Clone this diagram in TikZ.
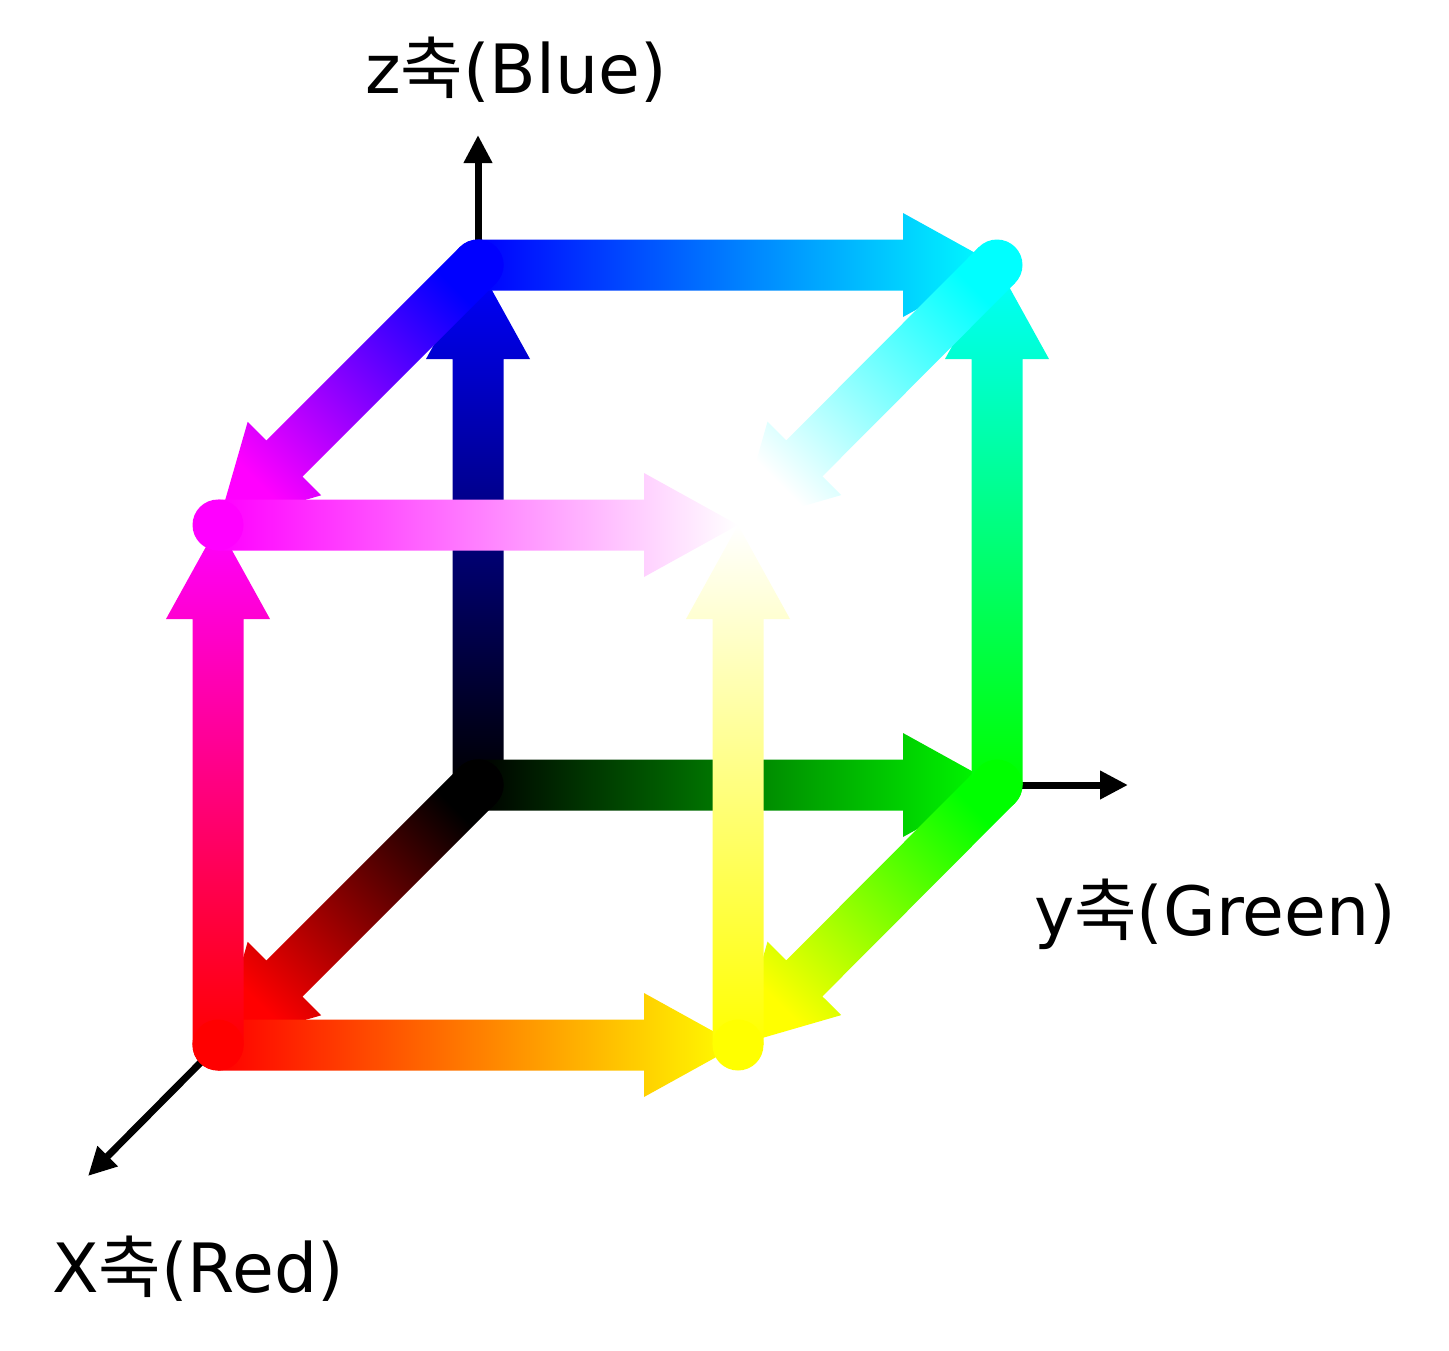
\documentclass[tikz,border=0pt]{standalone}
\usepackage{fontspec}
\setmainfont{DejaVu Sans}
\newfontfamily\kr{Noto Sans CJK KR}
\usetikzlibrary{calc, arrows.meta}
\definecolor{cyan}{rgb}{0,1,1}
\definecolor{magenta}{rgb}{1,0,1}
\definecolor{yellow}{rgb}{1,1,0}
\tikzset{
	axisarrow/.style={line width=7pt, -{Triangle[length=28pt, width=27pt]}},
	axislabel/.style={inner sep=0pt, font=\fontsize{68}{80}\selectfont},
}
% edge of the cube: from, to, shading angle (the vertex names are their colours)
\newcommand{\rgbedge}[3]{%
	\coordinate (h) at ($(#2)!94pt!(#1)$);
	\shade[bottom color=#1, top color=#2, shading angle=#3]
		($(#1)!25.5pt!90:(#2)$) -- ($(h)!25.5pt!-90:(#1)$) -- ($(h)!52pt!-90:(#1)$)
		-- (#2) -- ($(h)!52pt!90:(#1)$) -- ($(h)!25.5pt!90:(#1)$)
		-- ($(#1)!25.5pt!-90:(#2)$) -- cycle;
	\fill[#1] (#1) circle (25.5pt);
}

\begin{document}
\begin{tikzpicture}[x=1pt, y=-1pt]
	\useasboundingbox (0,0) rectangle (1449,1350);

	\coordinate (black) at (478,785);
	\coordinate (blue) at (478,265);
	\coordinate (green) at (997,785);
	\coordinate (cyan) at (997,265);
	\coordinate (red) at (218,1045);
	\coordinate (magenta) at (218,525);
	\coordinate (yellow) at (738,1045);
	\coordinate (white) at (738,525);

	\coordinate (ztip) at (478,135);
	\coordinate (ytip) at (1128,785);
	\coordinate (xtip) at (88,1176);

	\draw[axisarrow] (blue) -- (ztip);
	\draw[axisarrow] (green) -- (ytip);
	\draw[axisarrow] (red) -- (xtip);

	\rgbedge{black}{blue}{0}
	\rgbedge{black}{green}{-90}
	\rgbedge{black}{red}{135}
	\rgbedge{blue}{cyan}{-90}
	\rgbedge{blue}{magenta}{135}
	\rgbedge{green}{yellow}{135}
	\rgbedge{green}{cyan}{0}
	\rgbedge{red}{yellow}{-90}
	\rgbedge{red}{magenta}{0}
	\rgbedge{magenta}{white}{-90}
	\rgbedge{cyan}{white}{135}
	\rgbedge{yellow}{white}{0}

	\node[axislabel, anchor=base] (zlabel) at (516,93) {z{\kr 축}(Blue)};
	\node[axislabel, anchor=base] (ylabel) at (1215,935) {y{\kr 축}(Green)};
	\node[axislabel, anchor=base] (xlabel) at (198,1292) {X{\kr 축}(Red)};
\end{tikzpicture}
\end{document}
